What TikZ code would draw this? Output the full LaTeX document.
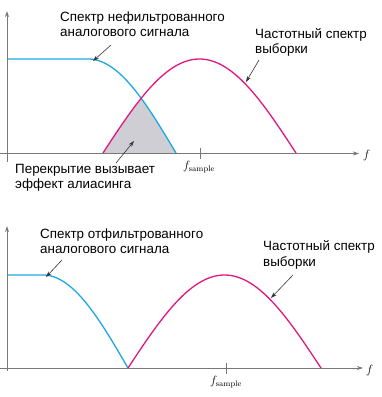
\documentclass[tikz,border=0pt]{standalone}
\usepackage[no-math]{fontspec}
\setmainfont{Liberation Sans}
\usetikzlibrary{arrows.meta}
\definecolor{cblue}{RGB}{30,168,225}
\definecolor{cmag}{RGB}{224,24,126}
\definecolor{caxis}{RGB}{120,120,120}
\definecolor{cfill}{RGB}{206,206,212}
\begin{document}
\begin{tikzpicture}[x=1pt,y=-1pt,
  axisline/.style={draw=caxis,line width=0.9pt,-{Stealth[length=6pt,width=4pt]}},
  bluecurve/.style={draw=cblue,line width=1.3pt},
  magcurve/.style={draw=cmag,line width=1.3pt},
  pointer/.style={draw=black!80,line width=0.6pt,-{Stealth[length=6pt,width=4pt]}},
  lbl/.style={anchor=north west,inner sep=0pt,align=left,font=\fontsize{13.4}{15.5}\selectfont},
  fs/.style={inner sep=0pt,font=\fontsize{12}{14}\selectfont}]
\useasboundingbox (0,0) rectangle (382,397);
% ---------- top panel ----------
\fill[cfill] plot[domain=103:176,samples=80,smooth]
  (\x,{max(59+94*(1-cos(90*(\x-88)/88)),153-94*cos(90*(\x-199.5)/96.5))}) -- cycle;
\draw[bluecurve] (7,59) -- (88,59) plot[domain=88:176,samples=60,smooth]
  (\x,{59+94*(1-cos(90*(\x-88)/88))});
\draw[magcurve] plot[domain=103:296,samples=100,smooth]
  (\x,{153-94*cos(90*(\x-199.5)/96.5)});
\coordinate (o1l) at (0,153.5);
\coordinate (o1r) at (359,153.5);
\coordinate (y1b) at (7,162);
\coordinate (y1t) at (7,11);
\draw[axisline] (o1l) -- (o1r);
\draw[axisline] (y1b) -- (y1t);
\draw[caxis,line width=0.9pt] (200,148) -- (200,159);
\node[fs,anchor=west] (f1) at (363,155) {$f$};
\node[fs,anchor=north] (fs1) at (199,161) {$f_{\mathrm{sample}}$};
\node[lbl] (t1) at (60,11.5) {Спектр нефильтрованного\\аналогового сигнала};
\node[lbl] (t2) at (255,28) {Частотный спектр\\выборки};
\node[lbl] (t3) at (15,164) {Перекрытие вызывает\\эффект алиасинга};
\coordinate (a1s) at (111,45);
\coordinate (a1e) at (93,61);
\coordinate (a2s) at (259,60);
\coordinate (a2e) at (246,82);
\coordinate (a3s) at (116,163);
\coordinate (a3e) at (134,141);
\draw[pointer] (a1s) -- (a1e);
\draw[pointer] (a2s) -- (a2e);
\draw[pointer] (a3s) -- (a3e);
% ---------- bottom panel ----------
\draw[bluecurve] (7,275) -- (43,275) plot[domain=43:128,samples=60,smooth]
  (\x,{275+93*(1-cos(90*(\x-43)/85))});
\draw[magcurve] plot[domain=128:321,samples=100,smooth]
  (\x,{368-93*cos(90*(\x-224.5)/96.5)});
\coordinate (o2l) at (0,368);
\coordinate (o2r) at (363,368);
\coordinate (y2b) at (7,371);
\coordinate (y2t) at (7,226);
\draw[axisline] (o2l) -- (o2r);
\draw[axisline] (y2b) -- (y2t);
\draw[caxis,line width=0.9pt] (226,363) -- (226,374);
\node[fs,anchor=west] (f2) at (366,370) {$f$};
\node[fs,anchor=north] (fs2) at (226,376) {$f_{\mathrm{sample}}$};
\node[lbl] (t4) at (40,228.5) {Спектр отфильтрованного\\аналогового сигнала};
\node[lbl] (t5) at (263,240.5) {Частотный спектр\\выборки};
\coordinate (a4s) at (62,260);
\coordinate (a4e) at (46,277);
\coordinate (a5s) at (293,275);
\coordinate (a5e) at (271,298);
\draw[pointer] (a4s) -- (a4e);
\draw[pointer] (a5s) -- (a5e);
\end{tikzpicture}
\end{document}
